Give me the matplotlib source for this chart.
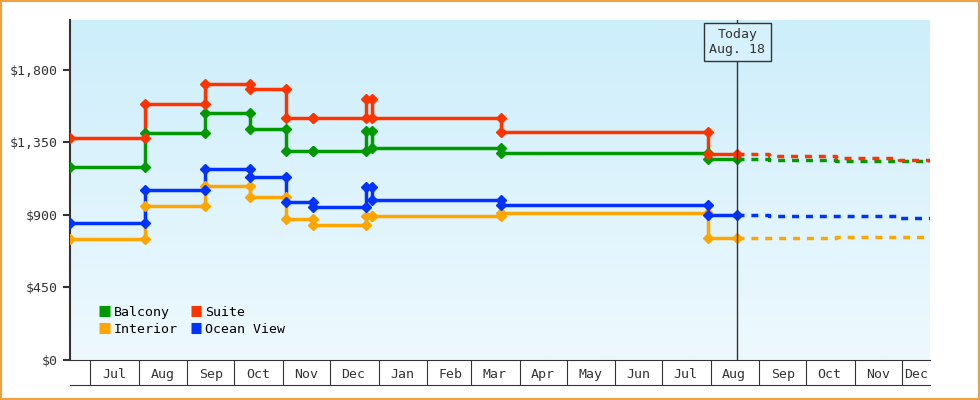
import matplotlib
matplotlib.use("Agg")
import matplotlib.pyplot as plt
import matplotlib.dates as mdates
import numpy as np
import pandas as pd
from matplotlib.colors import LinearSegmentedColormap

change_dates = ["2022-06-18", "2022-08-05", "2022-09-12", "2022-10-11", "2022-11-03",
                "2022-11-20", "2022-12-24", "2022-12-28", "2023-03-20", "2023-07-30"]
balcony = [1200, 1410, 1533, 1434, 1297, 1297, 1421, 1316, 1285, 1248]
suite = [1380, 1590, 1712, 1682, 1500, 1500, 1620, 1500, 1415, 1279]
interior = [750, 956, 1080, 1012, 875, 838, 894, 894, 912, 757]
ocean = [850, 1055, 1186, 1136, 981, 950, 1074, 993, 962, 900]

today = "2023-08-18"
fc_dates = ["2023-08-18", "2023-09-07", "2023-10-20", "2023-11-29", "2023-12-19"]
fc_balcony = [1248, 1243, 1238, 1232, 1229]
fc_suite = [1279, 1268, 1255, 1240, 1229]
fc_interior = [757, 757, 764, 764, 764]
fc_ocean = [900, 893, 893, 881, 881]

names = ["Balcony", "Interior", "Suite", "Ocean View"]
colors = ["#009900", "#ffa500", "#ff3300", "#0033ff"]
series = [balcony, interior, suite, ocean]
fcs = [fc_balcony, fc_interior, fc_suite, fc_ocean]

plt.rcParams['font.family'] = ['DejaVu Sans Mono']
fig = plt.figure(figsize=(9.8, 4.0), dpi=100)
fig.patch.set_facecolor("white")
fig.patches.append(plt.Rectangle((0.001, 0.002), 0.998, 0.995, transform=fig.transFigure,
                                 fill=False, edgecolor="#f0a040", lw=1.5))
ax = fig.add_axes([70/980, 40/400, 860/980, 340/400])

x0 = mdates.date2num(pd.Timestamp("2022-06-18"))
x1 = mdates.date2num(pd.Timestamp("2023-12-19"))
ax.set_xlim(x0, x1)
ax.set_ylim(0, 2110)
grad = np.linspace(0, 1, 256).reshape(-1, 1)
cm = LinearSegmentedColormap.from_list("g", ["#eef9fe", "#cdeefb"])
ax.imshow(grad, extent=[x0, x1, 0, 2110], origin="lower", aspect="auto", cmap=cm, zorder=0)

cd = mdates.date2num(pd.to_datetime(change_dates))
td = mdates.date2num(pd.Timestamp(today))
fd = mdates.date2num(pd.to_datetime(fc_dates))
for name, c, v, f in zip(names, colors, series, fcs):
    xs = list(cd) + [td]
    ys = list(v) + [v[-1]]
    ax.plot(xs, ys, drawstyle="steps-post", color=c, lw=2.5, zorder=3, label=name)
    mx = list(cd) + list(cd[1:]) + [td]
    my = list(v) + list(v[:-1]) + [v[-1]]
    ax.plot(mx, my, "D", color=c, ms=5, zorder=4)
    ax.plot(fd, f, color=c, lw=2.5, ls=(0, (2, 2)), drawstyle="steps-post", zorder=3)

ax.axvline(td, color="#333333", lw=1, zorder=5)
ax.annotate("Today\nAug. 18", xy=(td, 0.935), xycoords=("data", "axes fraction"),
            ha="center", va="center", fontsize=9.5, color="#333333", zorder=6,
            bbox=dict(boxstyle="square,pad=0.4", fc="#d6f1fc", ec="#333333", lw=1))

ax.set_yticks([0, 450, 900, 1350, 1800])
ax.set_yticklabels(["$0", "$450", "$900", "$1,350", "$1,800"])
ax.tick_params(axis="y", length=5, width=1.5, color="#333333", labelsize=9.5, labelcolor="#333333")

months = pd.date_range("2022-07-01", "2023-12-01", freq="MS")
ax.set_xticks(mdates.date2num(months))
ax.set_xticklabels([])
ax.tick_params(axis="x", which="major", length=18, width=0.8, color="#333333")
mids = [mdates.date2num(m) + 15 for m in months]
mids[-1] = (mdates.date2num(months[-1]) + x1) / 2
ax.set_xticks(mids, minor=True)
ax.set_xticklabels([m.strftime("%b") for m in months], minor=True)
ax.tick_params(axis="x", which="minor", length=0, pad=6, labelsize=9.5, labelcolor="#333333")

for s in ["top", "right"]:
    ax.spines[s].set_visible(False)
ax.spines["left"].set_linewidth(1.5)
ax.spines["left"].set_color("#333333")
ax.spines["bottom"].set_color("#333333")
ax.plot([0, 1], [-0.0735, -0.0735], transform=ax.transAxes, color="#333333", lw=0.8, clip_on=False)

leg = ax.legend(loc="lower left", ncol=2, frameon=False, fontsize=9.5, handlelength=0.8,
                handleheight=0.8, columnspacing=1.0, handletextpad=0.3,
                bbox_to_anchor=(0.02, 0.035), labelspacing=0.3)
for h in leg.legend_handles:
    h.set_linewidth(8)
    h.set_solid_capstyle("butt")
fig.savefig("out.png", dpi=100)
